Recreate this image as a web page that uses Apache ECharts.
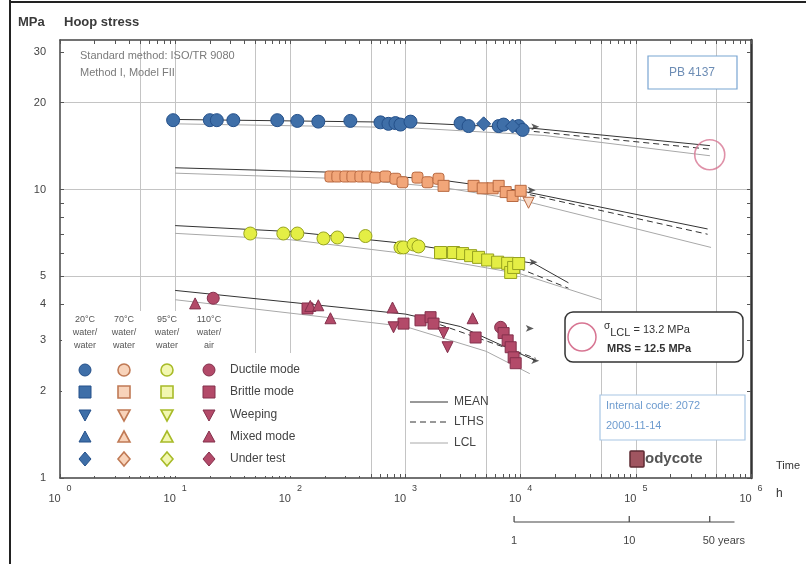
<!DOCTYPE html>
<html><head><meta charset="utf-8">
<script src="https://cdn.jsdelivr.net/npm/echarts@6/dist/echarts.min.js"></script>
<style>html,body{margin:0;padding:0;background:#fff}#c{width:806px;height:564px}</style>
</head><body><div id="c"></div>
<script>
// ---- axis / tick values ----
const xLabelValues = [1, 10, 100, 1000, 10000, 100000, 1000000];
const xGridValues = [5, 10, 50, 100, 500, 1000, 5000, 10000, 50000, 100000, 500000];
const yLabelValues = [1, 2, 3, 4, 5, 10, 20, 30];
const yGridValues = [5, 10, 20];
const minorMultipliers = [1, 2, 3, 4, 5, 6, 7, 8, 9];
const yearTicks = [1, 10, 50];
const yearTickLabels = ['1', '10', '50 years'];
const yearLineEnd = 82;
const HOURS_PER_YEAR = 8766;

// ---- data: [hours, MPa] ----
// 20°C water/water (blue)
const blueDuctile = [[9.6,17.4],[20,17.4],[23,17.4],[32,17.4],[77,17.4],[115,17.3],[175,17.2],[332,17.3],[606,17.1],[711,16.9],[818,17.0],[905,16.8],[1105,17.2],[3007,17.0],[3530,16.6],[6440,16.6],[7110,16.8],[9610,16.6],[10400,16.1]];
const blueUnderTest = [[4770,16.9],[8510,16.6]];
// 70°C water/water (orange)
const orangeDuctile = [[223,11.1],[256,11.1],[301,11.1],[346,11.1],[406,11.1],[467,11.1],[548,11.0],[670,11.1],[818,10.9],[942,10.6],[1271,11.0],[1553,10.6],[1935,10.9]];
const orangeBrittle = [[2140,10.3],[3900,10.3],[4680,10.1],[5710,10.1],[6440,10.3],[7410,9.8],[8510,9.5],[10000,9.9]];
const orangeWeeping = [[11700,9.0]];
// 95°C water/water (yellow)
const yellowDuctile = [[44.9,7.04],[86.9,7.04],[115,7.04],[194,6.77],[256,6.82],[449,6.9],[905,6.3],[961,6.3],[1175,6.45],[1297,6.35]];
const yellowBrittle = [[2015,6.05],[2614,6.05],[3130,6.0],[3675,5.9],[4310,5.82],[5170,5.7],[6310,5.6],[7710,5.55],[8190,5.16],[8690,5.37],[9610,5.54]];
// 110°C water/air (red)
const redDuctile = [[21.4,4.2],[6700,3.33]];
const redBrittle = [[141,3.87],[961,3.43],[1349,3.52],[1650,3.61],[1751,3.43],[4060,3.07],[7110,3.18],[7710,3.0],[8190,2.84],[8690,2.62],[9050,2.5]];
const redWeeping = [[787,3.33],[2140,3.18],[2317,2.84]];
const redMixed = [[14.9,4.03],[149,3.95],[175,3.97],[223,3.58],[771,3.9],[3827,3.58]];
// running tests (arrows)
const runningArrows = [[14500,16.5],[13500,9.95],[14000,5.6],[13000,3.3],[14500,2.55]];

// ---- regression lines ----
const blueMean = [[10,17.5],[1000,17.1],[13000,16.3],[440000,14.2]];
const blueLTHS = [[13000,15.9],[440000,13.8]];
const blueLCL = [[10,16.9],[1000,16.4],[16000,15.4],[440000,13.1]];
const orangeMean = [[10,11.9],[300,11.45],[2000,10.8],[10000,9.9],[420000,7.3]];
const orangeLTHS = [[12000,9.6],[420000,7.0]];
const orangeLCL = [[10,11.4],[300,10.9],[2000,10.2],[10000,9.2],[450000,6.3]];
const yellowMean = [[10,7.5],[100,7.15],[1000,6.5],[13000,5.55],[26000,4.75]];
const yellowLTHS = [[8000,5.5],[26000,4.55]];
const yellowLCL = [[10,7.05],[100,6.7],[1000,6.0],[10000,5.1],[50000,4.15]];
const redMean = [[10,4.47],[1000,3.7],[3000,3.35],[13500,2.55]];
const redLTHS = [[2000,3.4],[13500,2.6]];
const redLCL = [[10,4.15],[1000,3.35],[5000,2.75],[12000,2.3]];
const lclPoint50y = [[438300,13.2]];

const FONT = 'Liberation Sans, Arial, Helvetica, sans-serif';
const C = {
  blue:   {fill:'#3f6fa8', stroke:'#24508a'},
  orange: {fill:'#f2a679', stroke:'#b96a42'},
  yellow: {fill:'#e4ee45', stroke:'#96a21e'},
  red:    {fill:'#b34a69', stroke:'#83304c'}
};

function minorTicks(min, max) {
  const out = [];
  for (let d = 1; d <= max; d *= 10) {
    for (const m of minorMultipliers) { const v = d * m; if (v >= min && v <= max) out.push(v); }
  }
  return out;
}
const xMinor = minorTicks(1, 1000000);
const yMinor = minorTicks(1, 33).concat([]);

const chart = echarts.init(document.getElementById('c'));

function scatter(data, col, symbol, size, rotate) {
  return {type:'scatter', data, symbol, symbolSize:size, symbolRotate:rotate||0, z:4,
    itemStyle:{color:col.fill, borderColor:col.stroke, borderWidth:1, opacity:1}};
}
function line(data, kind) {
  const ls = kind === 'mean' ? {color:'#333', width:1} :
             kind === 'lths' ? {color:'#333', width:1, type:[6,4]} :
             {color:'#a8a8a8', width:1};
  return {type:'line', data, symbol:'none', lineStyle:ls, z:2, silent:true, animation:false};
}

const logAxisCommon = {type:'log', logBase:10};
const option = {
  animation:false,
  textStyle:{fontFamily:FONT},
  grid:{left:60, right:55, top:40, bottom:86, containLabel:false},
  xAxis:[
    Object.assign({}, logAxisCommon, {min:1, max:1000000, position:'bottom',
      axisLine:{show:true, lineStyle:{color:'#444', width:1.5}},
      axisTick:{show:true, inside:true, length:4, customValues:xMinor, lineStyle:{color:'#555'}},
      axisLabel:{customValues:xLabelValues, margin:6, color:'#444', fontFamily:FONT,
        formatter:v => '{b|10}{s|' + Math.round(Math.log10(v)) + '}',
        rich:{b:{fontSize:11, color:'#444', fontFamily:FONT}, s:{fontSize:9, color:'#444', fontFamily:FONT, padding:[0,0,20,6]}}},
      splitLine:{show:false}}),
    Object.assign({}, logAxisCommon, {min:1, max:1000000, position:'top',
      axisLine:{show:true, lineStyle:{color:'#444', width:1.5}},
      axisTick:{show:true, inside:true, length:4, customValues:xMinor, lineStyle:{color:'#555'}},
      axisLabel:{show:false}, splitLine:{show:false}}),
    Object.assign({}, logAxisCommon, {min:1, max:1000000, position:'bottom',
      axisLine:{show:false}, axisTick:{show:false, customValues:xGridValues},
      axisLabel:{show:false}, splitLine:{show:true, lineStyle:{color:'#c4c4c4', width:1}}})
  ],
  yAxis:[
    Object.assign({}, logAxisCommon, {min:1, max:33, position:'left',
      axisLine:{show:true, lineStyle:{color:'#444', width:1.5}},
      axisTick:{show:true, inside:true, length:4, customValues:yMinor, lineStyle:{color:'#555'}},
      axisLabel:{customValues:yLabelValues, margin:14, color:'#444', fontSize:11, fontFamily:FONT},
      splitLine:{show:false}}),
    Object.assign({}, logAxisCommon, {min:1, max:33, position:'right',
      axisLine:{show:true, lineStyle:{color:'#333', width:2.5}},
      axisTick:{show:true, inside:true, length:4, customValues:yMinor, lineStyle:{color:'#555'}},
      axisLabel:{show:false}, splitLine:{show:false}}),
    Object.assign({}, logAxisCommon, {min:1, max:33, position:'left',
      axisLine:{show:false}, axisTick:{show:false, customValues:yGridValues},
      axisLabel:{show:false}, splitLine:{show:true, lineStyle:{color:'#c4c4c4', width:1}}})
  ],
  series:[
    line(blueMean,'mean'), line(blueLTHS,'lths'), line(blueLCL,'lcl'),
    line(orangeMean,'mean'), line(orangeLTHS,'lths'), line(orangeLCL,'lcl'),
    line(yellowMean,'mean'), line(yellowLTHS,'lths'), line(yellowLCL,'lcl'),
    line(redMean,'mean'), line(redLTHS,'lths'), line(redLCL,'lcl'),
    scatter(blueDuctile, C.blue, 'circle', 13),
    scatter(blueUnderTest, C.blue, 'diamond', 14),
    scatter(orangeDuctile, C.orange, 'roundRect', 11),
    scatter(orangeBrittle, C.orange, 'rect', 11),
    scatter(orangeWeeping, {fill:'#f8d8c4', stroke:'#b96a42'}, 'triangle', 11, 180),
    scatter(yellowDuctile, C.yellow, 'circle', 13),
    scatter(yellowBrittle, C.yellow, 'rect', 12),
    scatter(redDuctile, C.red, 'circle', 12),
    scatter(redBrittle, C.red, 'rect', 11),
    scatter(redWeeping, C.red, 'triangle', 11, 180),
    scatter(redMixed, C.red, 'triangle', 11),
    {type:'scatter', data:runningArrows, symbol:'arrow', symbolSize:[5,8], symbolRotate:-90, z:5,
      itemStyle:{color:'#333'}},
    {type:'scatter', data:lclPoint50y, symbol:'circle', symbolSize:30, z:5,
      itemStyle:{color:'rgba(0,0,0,0)', borderColor:'#d77592', borderWidth:1.6}}
  ]
};
chart.setOption(option);

// ---- annotations / legend (graphics) ----
const g = [];
const txt = (x, y, text, style) => g.push({type:'text', x, y, z:20,
  style:Object.assign({text, fill:'#444', font:'11px ' + FONT, textVerticalAlign:'middle'}, style || {})});

// frame of the figure
g.push({type:'line', shape:{x1:10, y1:0, x2:10, y2:564}, style:{stroke:'#222', lineWidth:2}, z:20});
g.push({type:'line', shape:{x1:10, y1:2, x2:806, y2:2}, style:{stroke:'#222', lineWidth:2}, z:20});

// white panels behind legend (hide grid lines)
g.push({type:'rect', shape:{x:62, y:311, width:165, height:165}, style:{fill:'#fff'}, z:1});
g.push({type:'rect', shape:{x:226, y:353, width:136, height:123}, style:{fill:'#fff'}, z:1});

txt(18, 22, 'MPa', {font:'bold 13px ' + FONT, fill:'#3a3a3a'});
txt(64, 22, 'Hoop stress', {font:'bold 13px ' + FONT, fill:'#3a3a3a'});
txt(80, 56, 'Standard method: ISO/TR 9080', {fill:'#7a7a7a'});
txt(80, 73, 'Method I, Model FII', {fill:'#7a7a7a'});

// PB box
g.push({type:'rect', shape:{x:648, y:56, width:89, height:33}, style:{fill:'#fff', stroke:'#79a5d2', lineWidth:1.2}, z:20});
txt(692, 73, 'PB 4137', {fill:'#6d8db5', font:'12px ' + FONT, textAlign:'center'});

// MRS box
g.push({type:'rect', shape:{x:565, y:312, width:178, height:50, r:8}, style:{fill:'#fff', stroke:'#333', lineWidth:1.5}, z:20});
g.push({type:'circle', shape:{cx:582, cy:337, r:14}, style:{fill:'none', stroke:'#d77592', lineWidth:1.5}, z:21});
g.push({type:'text', x:604, y:330, z:21, style:{text:'{a|σ}{b|LCL}{c| = 13.2 MPa}', textVerticalAlign:'middle',
  rich:{a:{fontSize:10, fill:'#333', padding:[0,0,8,0], fontFamily:FONT}, b:{fontSize:11, fill:'#333', padding:[6,0,0,0], fontFamily:FONT}, c:{fontSize:11, fill:'#333', fontFamily:FONT}}}});
txt(607, 349, 'MRS = 12.5 MPa', {font:'bold 11px ' + FONT, fill:'#333'});

// internal code box
g.push({type:'rect', shape:{x:600, y:395, width:145, height:45}, style:{fill:'#fff', stroke:'#a7c6e4', lineWidth:1.2}, z:20});
txt(606, 406, 'Internal code: 2072', {fill:'#6e9ccf'});
txt(606, 426, '2000-11-14', {fill:'#6e9ccf'});

// Bodycote logo
g.push({type:'rect', shape:{x:630, y:451, width:14, height:16, r:1}, style:{fill:'#a05560', stroke:'#5e2b33', lineWidth:1.5}, z:20});
txt(645, 459, 'odycote', {font:'bold 15px ' + FONT, fill:'#555'});

txt(776, 466, 'Time', {fill:'#333'});
txt(776, 494, 'h', {fill:'#333', font:'12px ' + FONT});

// symbol legend
const legendCols = [
  {x:85,  head:['20°C','water/','water'], col:C.blue, open:false},
  {x:124, head:['70°C','water/','water'], col:{fill:'#f8d3ba', stroke:'#c07a55'}, open:true},
  {x:167, head:['95°C','water/','water'], col:{fill:'#f2f7b0', stroke:'#a8bb28'}, open:true},
  {x:209, head:['110°C','water/','air'], col:C.red, open:false}
];
const legendRows = [370, 392, 415, 437, 459];
const legendRowLabels = ['Ductile mode', 'Brittle mode', 'Weeping', 'Mixed mode', 'Under test'];
legendCols.forEach(c => {
  c.head.forEach((h, i) => txt(c.x, 320 + i * 13, h, {font:'9px ' + FONT, fill:'#555', textAlign:'center'}));
  const st = {fill:c.col.fill, stroke:c.col.stroke, lineWidth:c.open ? 1.6 : 1};
  const s = 6;
  g.push({type:'circle', shape:{cx:c.x, cy:legendRows[0], r:s}, style:st, z:20});
  g.push({type:'rect', shape:{x:c.x - s, y:legendRows[1] - s, width:2 * s, height:2 * s}, style:st, z:20});
  g.push({type:'polygon', shape:{points:[[c.x - s, legendRows[2] - s + 1],[c.x + s, legendRows[2] - s + 1],[c.x, legendRows[2] + s]]}, style:st, z:20});
  g.push({type:'polygon', shape:{points:[[c.x - s, legendRows[3] + s - 1],[c.x + s, legendRows[3] + s - 1],[c.x, legendRows[3] - s]]}, style:st, z:20});
  g.push({type:'polygon', shape:{points:[[c.x, legendRows[4] - s - 1],[c.x + s, legendRows[4]],[c.x, legendRows[4] + s + 1],[c.x - s, legendRows[4]]]}, style:st, z:20});
});
legendRowLabels.forEach((l, i) => txt(230, legendRows[i], l, {font:'12px ' + FONT, fill:'#444'}));

// line legend
const lineLegend = [
  {label:'MEAN', y:402, style:{stroke:'#333', lineWidth:1}},
  {label:'LTHS', y:422, style:{stroke:'#333', lineWidth:1, lineDash:[6,4]}},
  {label:'LCL',  y:443, style:{stroke:'#a8a8a8', lineWidth:1}}
];
lineLegend.forEach(l => {
  g.push({type:'line', shape:{x1:410, y1:l.y, x2:448, y2:l.y}, style:l.style, z:20});
  txt(454, l.y, l.label, {font:'12px ' + FONT, fill:'#444'});
});

// years scale mapped through the hour axis
const yPix = 522;
const px = h => chart.convertToPixel({xAxisIndex:0}, h);
const x1y = px(yearTicks[0] * HOURS_PER_YEAR);
const xEnd = px(yearLineEnd * HOURS_PER_YEAR);
g.push({type:'line', shape:{x1:x1y, y1:yPix, x2:xEnd, y2:yPix}, style:{stroke:'#444', lineWidth:1.2}, z:20});
yearTicks.forEach((yr, i) => {
  const xx = px(yr * HOURS_PER_YEAR);
  g.push({type:'line', shape:{x1:xx, y1:yPix, x2:xx, y2:yPix - 6}, style:{stroke:'#444', lineWidth:1.2}, z:20});
  if (i === yearTicks.length - 1) txt(xx - 7, 541, yearTickLabels[i], {fill:'#444'});
  else txt(xx, 541, yearTickLabels[i], {fill:'#444', textAlign:'center'});
});

chart.setOption({graphic:{elements:g}});
</script></body></html>
